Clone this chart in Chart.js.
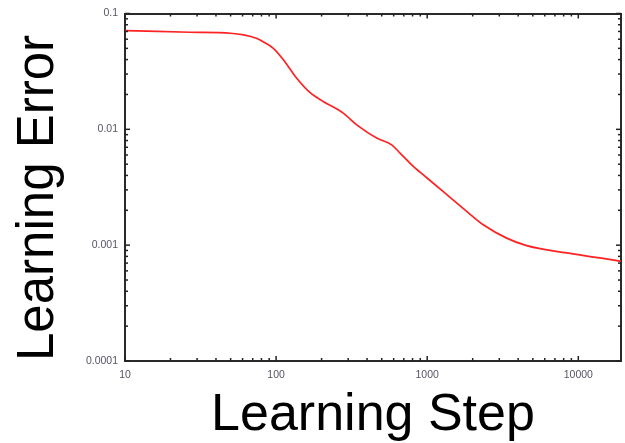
<!DOCTYPE html>
<html><head><meta charset="utf-8">
<script src="https://cdn.jsdelivr.net/npm/chart.js@4"></script>
<style>html,body{margin:0;padding:0;background:#fff;}#wrap{width:625px;height:443px;}</style>
</head><body><div id="wrap"><canvas id="c" width="625" height="443"></canvas></div>
<script>
// Data (log-log learning curve)
const steps  = [10, 27, 50, 61, 74, 82, 96, 112, 137, 168, 205, 278, 342, 463, 582, 661, 809, 896, 993, 1416, 1825, 2350, 3358, 4551, 8377, 13930, 19170];
const errors = [0.0711, 0.0689, 0.0675, 0.0653, 0.0611, 0.0571, 0.0501, 0.0397, 0.0276, 0.0207, 0.0174, 0.0138, 0.01094, 0.0084, 0.00735, 0.00624, 0.00478, 0.00427, 0.00382, 0.00259, 0.00196, 0.00150, 0.00115, 0.000991, 0.000857, 0.000776, 0.000725];

const xTickValues = [10,20,30,40,50,60,70,80,90,100,200,300,400,500,600,700,800,900,1000,2000,3000,4000,5000,6000,7000,8000,9000,10000];
const yTickValues = [0.0001,0.0002,0.0003,0.0004,0.0005,0.0006,0.0007,0.0008,0.0009,0.001,0.002,0.003,0.004,0.005,0.006,0.007,0.008,0.009,0.01,0.02,0.03,0.04,0.05,0.06,0.07,0.08,0.09,0.1];
const xRange = [10, 19170];
const yRange = [0.0001, 0.1];
const xTitle = 'Learning Step';
const yTitle = 'Learning Error';

const FONT = '"Liberation Sans", Arial, sans-serif';
const isPow10 = v => Math.abs(Math.log10(v) - Math.round(Math.log10(v))) < 1e-9;
const labelCb = v => isPow10(v) ? String(v) : '';
const setTicks = arr => s => { s.ticks = arr.map(v => ({value: v, major: isPow10(v)})); };

const innerTicks = {
  id: 'innerTicks',
  afterDraw(chart) {
    const ctx = chart.ctx, a = chart.chartArea;
    ctx.save();
    ctx.strokeStyle = '#222';
    ctx.lineWidth = 1.5;
    const draw = (scale, horiz, edge, dir) => {
      scale.ticks.forEach(t => {
        const p = scale.getPixelForValue(t.value);
        const len = isPow10(t.value) ? 5 : 3;
        ctx.beginPath();
        if (horiz) { ctx.moveTo(p, edge); ctx.lineTo(p, edge + dir * len); }
        else { ctx.moveTo(edge, p); ctx.lineTo(edge + dir * len, p); }
        ctx.stroke();
      });
    };
    draw(chart.scales.x, true, a.bottom, -1);
    draw(chart.scales.x2, true, a.top, 1);
    draw(chart.scales.y, false, a.left, 1);
    draw(chart.scales.y2, false, a.right, -1);
    ctx.restore();
  }
};

const border = {display: true, color: '#2a2a2a', width: 2};
const noGrid = {display: false, drawTicks: false};

new Chart(document.getElementById('c'), {
  type: 'line',
  data: {
    datasets: [{
      data: steps.map((s, i) => ({x: s, y: errors[i]})),
      borderColor: '#ff2222',
      borderWidth: 1.7,
      pointRadius: 0,
      cubicInterpolationMode: 'monotone',
      fill: false
    }]
  },
  options: {
    responsive: false,
    animation: false,
    layout: {padding: 0},
    plugins: {legend: {display: false}, tooltip: {enabled: false}},
    scales: {
      x: {
        type: 'logarithmic', position: 'bottom', min: xRange[0], max: xRange[1],
        afterBuildTicks: setTicks(xTickValues),
        afterFit: s => { s.height = 82; },
        grid: noGrid, border,
        ticks: {autoSkip: false, maxRotation: 0, padding: 8, color: '#555566', font: {family: FONT, size: 10.5}, callback: labelCb},
        title: {display: true, text: xTitle, color: '#000', font: {family: FONT, size: 52, lineHeight: 1}, padding: {top: 0, bottom: 1.5}}
      },
      x2: {
        type: 'logarithmic', position: 'top', min: xRange[0], max: xRange[1],
        afterBuildTicks: setTicks(xTickValues),
        afterFit: s => { s.height = 13.5; },
        grid: noGrid, border,
        ticks: {display: false, autoSkip: false}
      },
      y: {
        type: 'logarithmic', position: 'left', min: yRange[0], max: yRange[1],
        afterBuildTicks: setTicks(yTickValues),
        afterFit: s => { s.width = 125; },
        grid: noGrid, border,
        ticks: {autoSkip: false, padding: 7, color: '#555566', font: {family: FONT, size: 10.5}, callback: labelCb},
        title: {display: true, text: yTitle, align: 'start', color: '#000', font: {family: FONT, size: 51, lineHeight: 1}, padding: {top: 13.5, bottom: 0}}
      },
      y2: {
        type: 'logarithmic', position: 'right', min: yRange[0], max: yRange[1],
        afterBuildTicks: setTicks(yTickValues),
        afterFit: s => { s.width = 4; },
        grid: noGrid, border,
        ticks: {display: false, autoSkip: false}
      }
    }
  },
  plugins: [innerTicks]
});
</script>
</body></html>
